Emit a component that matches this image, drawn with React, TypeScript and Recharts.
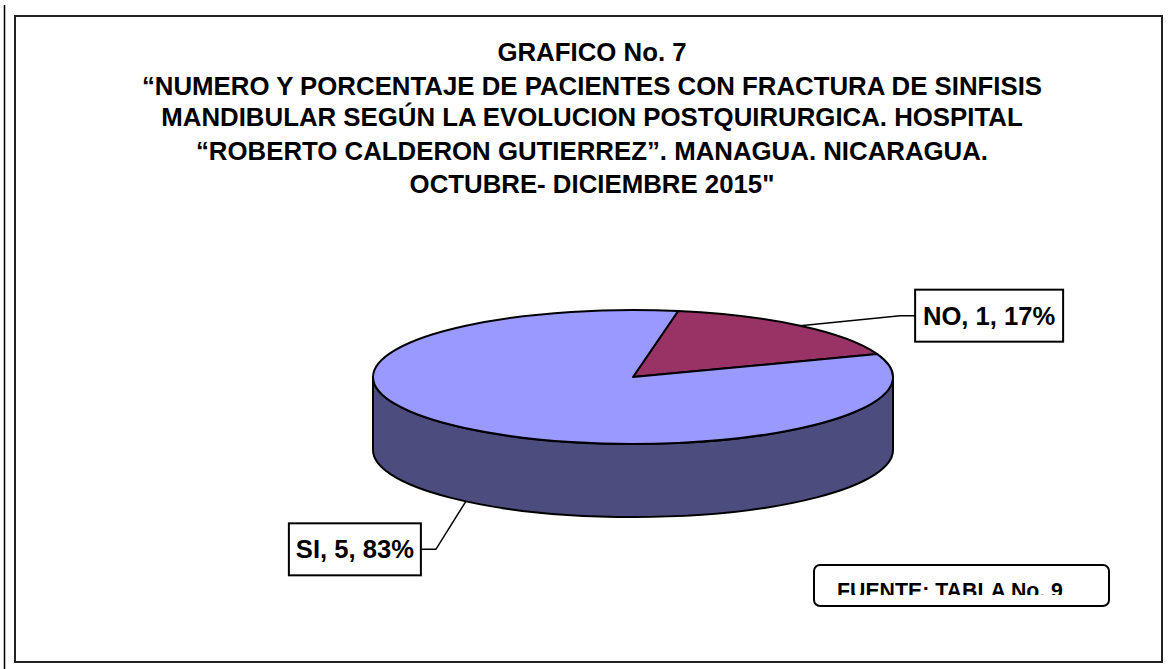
import { PieChart, Pie } from "recharts";

const categories = ["NO", "SI"];
const patients = [1, 5];
const topColors = ["#993366", "#9999FF"];
const sideColors = ["#4D1A33", "#4C4C7F"];

const titleLines = [
  "GRAFICO No. 7",
  "“NUMERO Y PORCENTAJE DE PACIENTES CON FRACTURA DE SINFISIS",
  "MANDIBULAR SEGÚN LA EVOLUCION POSTQUIRURGICA. HOSPITAL",
  "“ROBERTO CALDERON GUTIERREZ”. MANAGUA. NICARAGUA.",
  "OCTUBRE- DICIEMBRE 2015\"",
];
const sourceNote = "FUENTE: TABLA No. 9";

const data = categories.map((name, i) => ({
  name,
  value: patients[i],
  fill: topColors[i],
  side: sideColors[i],
}));

const W = 1169;
const H = 669;
const FONT = "'Liberation Sans', Arial, sans-serif";
const TILT = 67 / 260; // vertical squash of the pie top
const DEPTH = 73; // thickness of the 3d wall
const titleY = [61, 95, 126, 160, 193];

// elbow offset from the anchor, then box placement (per slice index)
const labelLayout = [
  { elbowDx: 100, elbowDy: -10, side: 1, boxW: 148 },
  { elbowDx: -30, elbowDy: 48, side: -1, boxW: 132 },
];

const rad = (d: number) => (d * Math.PI) / 180;

const Slice = (props: any) => {
  const { cx, cy, outerRadius, startAngle, endAngle, payload } = props;
  const rx = outerRadius;
  const ry = outerRadius * TILT;
  const pt = (deg: number, dy = 0) =>
    `${cx + rx * Math.cos(rad(deg))},${cy - ry * Math.sin(rad(deg)) + dy}`;

  const walls: JSX.Element[] = [];
  [
    [180, 360],
    [540, 720],
  ].forEach(([lo, hi], k) => {
    const a = Math.max(startAngle, lo);
    const b = Math.min(endAngle, hi);
    if (b > a) {
      const large = b - a > 180 ? 1 : 0;
      walls.push(
        <path
          key={k}
          d={`M${pt(a)} A${rx},${ry} 0 ${large} 0 ${pt(b)} L${pt(b, DEPTH)} A${rx},${ry} 0 ${large} 1 ${pt(a, DEPTH)} Z`}
          fill={payload.side}
          stroke="#000"
          strokeWidth={2}
          strokeLinejoin="round"
        />
      );
    }
  });

  const large = endAngle - startAngle > 180 ? 1 : 0;
  return (
    <g>
      {walls}
      <path
        d={`M${cx},${cy} L${pt(startAngle)} A${rx},${ry} 0 ${large} 0 ${pt(endAngle)} Z`}
        fill={payload.fill}
        stroke="#000"
        strokeWidth={2}
        strokeLinejoin="round"
      />
    </g>
  );
};

const SliceLabel = (props: any) => {
  const { cx, cy, midAngle, outerRadius, percent, value, name, index } = props;
  const lay = labelLayout[index];
  const rx = outerRadius;
  const ry = outerRadius * TILT;
  const s = Math.sin(rad(midAngle));
  const ax = cx + rx * Math.cos(rad(midAngle));
  const ay = cy - ry * s + (s < 0 ? DEPTH : 0);
  const ex = ax + lay.elbowDx;
  const ey = ay + lay.elbowDy;
  const bx = ex + lay.side * 15;
  const boxH = 52;
  const left = lay.side > 0 ? bx : bx - lay.boxW;
  const text = `${name}, ${value}, ${Math.round(percent * 100)}%`;
  return (
    <g>
      <polyline
        points={`${ax},${ay} ${ex},${ey} ${bx},${ey}`}
        fill="none"
        stroke="#000"
        strokeWidth={1.5}
      />
      <rect
        x={left}
        y={ey - boxH / 2}
        width={lay.boxW}
        height={boxH}
        fill="#fff"
        stroke="#000"
        strokeWidth={2}
      />
      <text
        x={left + lay.boxW / 2}
        y={ey + 9}
        textAnchor="middle"
        fontFamily={FONT}
        fontWeight="bold"
        fontSize={25.6}
        fill="#000"
      >
        {text}
      </text>
    </g>
  );
};

export default function App() {
  return (
    <div style={{ position: "absolute", left: 0, top: 0, width: W, height: H, background: "#fff" }}>
      <svg width={W} height={H} style={{ position: "absolute", left: 0, top: 0 }}>
        <line x1={4.5} y1={5} x2={4.5} y2={H} stroke="#000" strokeWidth={1.5} />
        <rect x={15} y={16} width={1147} height={646} fill="#fff" stroke="#222" strokeWidth={2} />
        {titleLines.map((t, i) => (
          <text
            key={i}
            x={592}
            y={titleY[i]}
            textAnchor="middle"
            fontFamily={FONT}
            fontWeight="bold"
            fontSize={25.8}
            fill="#000"
          >
            {t}
          </text>
        ))}
        <defs>
          <clipPath id="srcClip">
            <rect x={815} y={566} width={293} height={29} />
          </clipPath>
        </defs>
        <rect x={814} y={565} width={295} height={41} rx={6} fill="#fff" stroke="#000" strokeWidth={2} />
        <text
          x={837}
          y={598}
          fontFamily={FONT}
          fontWeight="bold"
          fontSize={21.3}
          fill="#000"
          clipPath="url(#srcClip)"
        >
          {sourceNote}
        </text>
      </svg>
      <div style={{ position: "absolute", left: 0, top: 0 }}>
        <PieChart width={W} height={H} margin={{ top: 0, right: 0, bottom: 0, left: 0 }}>
          <Pie
            data={data}
            dataKey="value"
            nameKey="name"
            cx={633}
            cy={377}
            outerRadius={260}
            startAngle={20}
            endAngle={380}
            stroke="none"
            shape={Slice}
            label={SliceLabel}
            labelLine={false}
            isAnimationActive={false}
          />
        </PieChart>
      </div>
    </div>
  );
}
